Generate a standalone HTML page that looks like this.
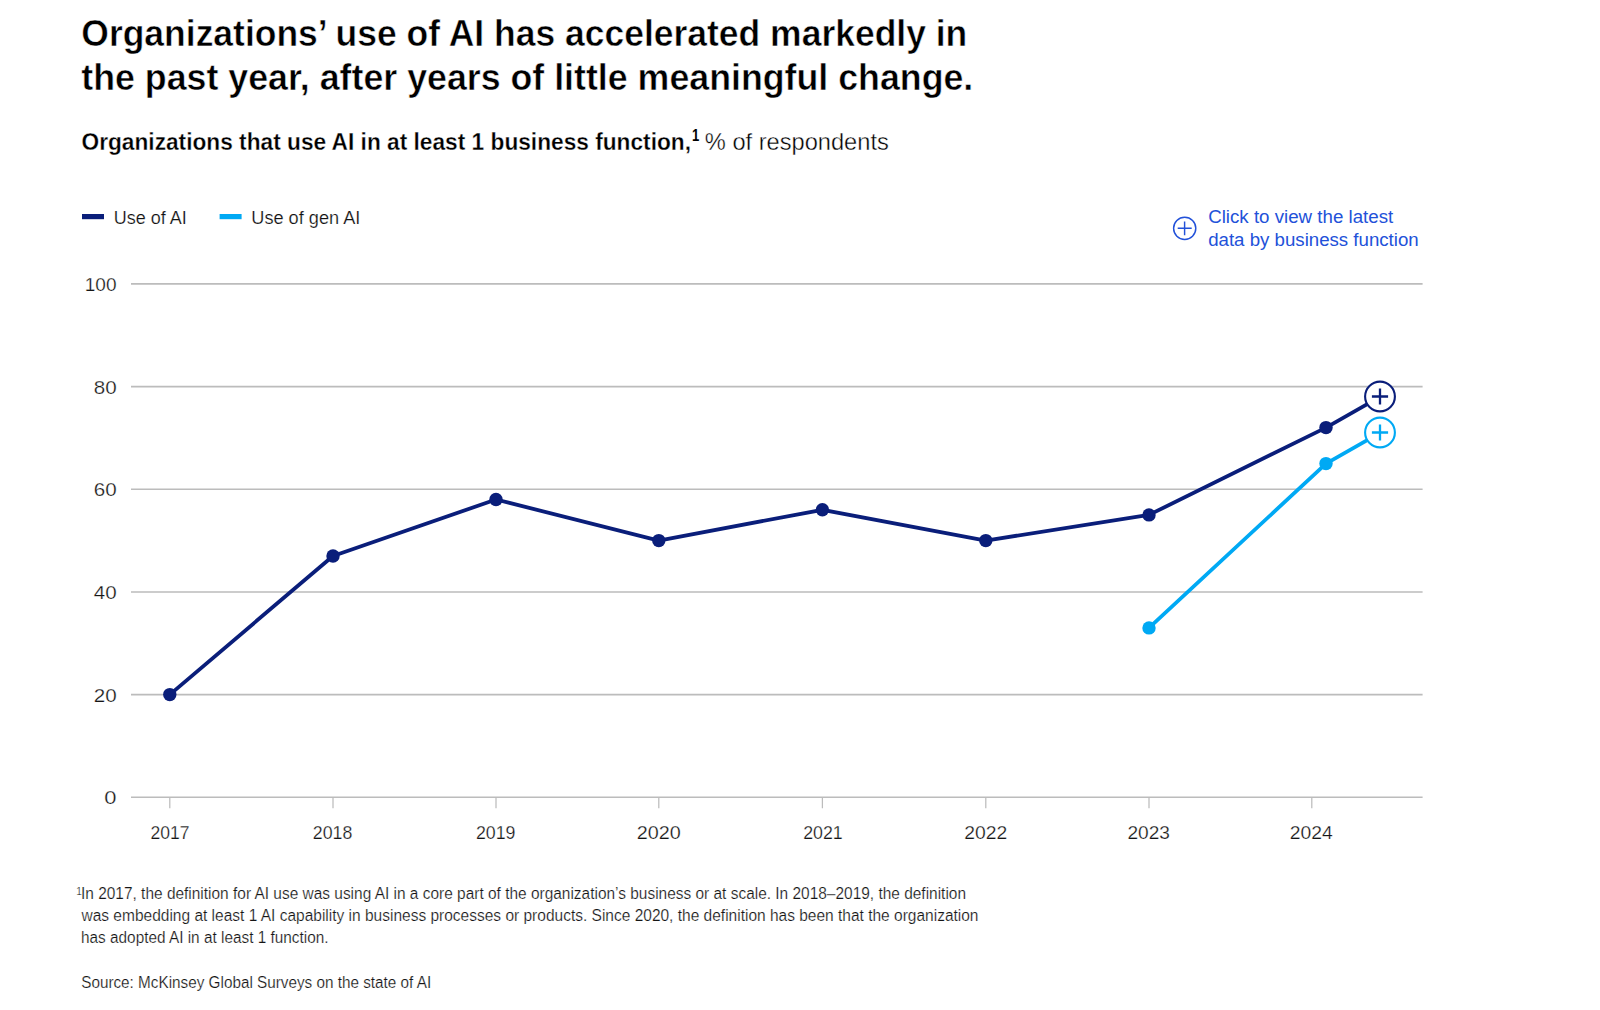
<!DOCTYPE html>
<html lang="en">
<head>
<meta charset="utf-8">
<title>Organizations' use of AI</title>
<style>
html,body{margin:0;padding:0;background:#fff;}
body{width:1600px;height:1010px;overflow:hidden;font-family:"Liberation Sans",sans-serif;}
svg{display:block}
text{font-family:"Liberation Sans",sans-serif;}
.title{font-size:36.5px;font-weight:bold;fill:#000;stroke:#fff;stroke-width:0.5px;}
.sub{font-size:22.5px;fill:#000;}
.ax{font-size:19px;fill:#151515;stroke:#fff;stroke-width:0.25px;}
.leg{font-size:18px;fill:#111;stroke:#fff;stroke-width:0.2px;}
.link{font-size:18.3px;fill:#2251d9;}
.fn{font-size:15.8px;fill:#151515;stroke:#fff;stroke-width:0.2px;}
</style>
</head>
<body>
<svg width="1600" height="1010" viewBox="0 0 1600 1010">
<rect width="1600" height="1010" fill="#fff"/>
<text class="title" x="81.3" y="45.8" textLength="886" lengthAdjust="spacingAndGlyphs">Organizations’ use of AI has accelerated markedly in</text>
<text class="title" x="81.3" y="90" textLength="892" lengthAdjust="spacingAndGlyphs">the past year, after years of little meaningful change.</text>
<text class="sub" x="81.5" y="149.6" style="font-weight:bold;font-size:23.2px;stroke:#fff;stroke-width:0.3px" textLength="609.5" lengthAdjust="spacingAndGlyphs">Organizations that use AI in at least 1 business function,</text>
<text transform="translate(692 141.3) scale(0.8 1)" font-weight="bold" font-size="16.3">1</text>
<text class="sub" x="704.8" y="149.7" style="font-size:23.6px;stroke:#fff;stroke-width:0.38px" textLength="184" lengthAdjust="spacingAndGlyphs">% of respondents</text>

<!-- legend -->
<rect x="82" y="214" width="22" height="5.2" fill="#0a1e7a"/>
<text class="leg" x="113.7" y="223.5" textLength="73" lengthAdjust="spacingAndGlyphs">Use of AI</text>
<rect x="219.6" y="214" width="22" height="5.2" fill="#00a9f4"/>
<text class="leg" x="251.3" y="223.5" textLength="109" lengthAdjust="spacingAndGlyphs">Use of gen AI</text>

<!-- link -->
<g stroke="#2251d9" stroke-width="1.45" fill="none">
<circle cx="1184.7" cy="228.3" r="11.1"/>
<path d="M1177.7 228.3h14M1184.6 221.5v13.8"/>
</g>
<text class="link" x="1208.2" y="222.6" textLength="185" lengthAdjust="spacingAndGlyphs">Click to view the latest</text>
<text class="link" x="1208.2" y="246.1" textLength="210.5" lengthAdjust="spacingAndGlyphs">data by business function</text>

<!-- grid -->
<g stroke="#bcbcbc" stroke-width="1.6">
<path d="M131 283.9H1422.6M131 386.6H1422.6M131 489.3H1422.6M131 592H1422.6M131 694.6H1422.6M131 797.3H1422.6"/>
<path stroke-width="1.25" d="M169.8 797.3v11M333 797.3v11M496 797.3v11M658.8 797.3v11M822.4 797.3v11M985.8 797.3v11M1149 797.3v11M1311.8 797.3v11"/>
</g>
<g class="ax" text-anchor="end">
<text x="116.5" y="290.8">100</text>
<text x="116.6" y="393.5" textLength="22.9" lengthAdjust="spacingAndGlyphs">80</text>
<text x="116.6" y="496.2" textLength="22.9" lengthAdjust="spacingAndGlyphs">60</text>
<text x="116.6" y="598.9" textLength="22.9" lengthAdjust="spacingAndGlyphs">40</text>
<text x="116.6" y="701.5" textLength="22.9" lengthAdjust="spacingAndGlyphs">20</text>
<text x="116.5" y="804.2" textLength="12.2" lengthAdjust="spacingAndGlyphs">0</text>
</g>
<g class="ax" text-anchor="middle">
<text x="169.9" y="839.2" textLength="39" lengthAdjust="spacingAndGlyphs">2017</text>
<text x="332.6" y="839.2" textLength="39.5" lengthAdjust="spacingAndGlyphs">2018</text>
<text x="495.7" y="839.2" textLength="39.5" lengthAdjust="spacingAndGlyphs">2019</text>
<text x="658.7" y="839.2" textLength="44" lengthAdjust="spacingAndGlyphs">2020</text>
<text x="823" y="839.2" textLength="39.5" lengthAdjust="spacingAndGlyphs">2021</text>
<text x="985.7" y="839.2" textLength="43" lengthAdjust="spacingAndGlyphs">2022</text>
<text x="1148.7" y="839.2" textLength="42.5" lengthAdjust="spacingAndGlyphs">2023</text>
<text x="1311.2" y="839.2" textLength="43" lengthAdjust="spacingAndGlyphs">2024</text>
</g>

<!-- lines -->
<polyline fill="none" stroke="#00a9f4" stroke-width="3.8" stroke-linejoin="round" points="1149,627.9 1326,463.6 1380,432.8"/>
<polyline fill="none" stroke="#0a1e7a" stroke-width="3.8" stroke-linejoin="round" points="169.8,694.6 333,556 496,499.5 658.8,540.6 822.4,509.8 985.8,540.6 1149,514.9 1326,427.6 1380,396.8"/>
<g fill="#00a9f4"><circle cx="1149" cy="627.9" r="6.7"/><circle cx="1326" cy="463.6" r="6.7"/></g>
<g fill="#0a1e7a">
<circle cx="169.8" cy="694.6" r="6.7"/><circle cx="333" cy="556" r="6.7"/><circle cx="496" cy="499.5" r="6.7"/><circle cx="658.8" cy="540.6" r="6.7"/><circle cx="822.4" cy="509.8" r="6.7"/><circle cx="985.8" cy="540.6" r="6.7"/><circle cx="1149" cy="514.9" r="6.7"/><circle cx="1326" cy="427.6" r="6.7"/>
</g>
<circle cx="1380" cy="432.5" r="14.9" fill="#fff" stroke="#00a9f4" stroke-width="2.1"/>
<path d="M1371.9 432.5h16.2M1380 424.4v16.2" stroke="#00a9f4" stroke-width="2.3" fill="none"/>
<circle cx="1380" cy="396.5" r="14.9" fill="#fff" stroke="#0a1e7a" stroke-width="2.1"/>
<path d="M1371.9 396.5h16.2M1380 388.4v16.2" stroke="#0a1e7a" stroke-width="2.3" fill="none"/>

<!-- footnote -->
<g class="fn">
<text x="76.3" y="895" font-size="10">1</text>
<text x="81" y="899.1" textLength="885" lengthAdjust="spacingAndGlyphs">In 2017, the definition for AI use was using AI in a core part of the organization’s business or at scale. In 2018–2019, the definition</text>
<text x="81.5" y="921" textLength="897" lengthAdjust="spacingAndGlyphs">was embedding at least 1 AI capability in business processes or products. Since 2020, the definition has been that the organization</text>
<text x="81" y="942.8" textLength="247.5" lengthAdjust="spacingAndGlyphs">has adopted AI in at least 1 function.</text>
<text x="81.2" y="987.8" textLength="350" lengthAdjust="spacingAndGlyphs">Source: McKinsey Global Surveys on the state of AI</text>
</g>
</svg>
</body>
</html>
